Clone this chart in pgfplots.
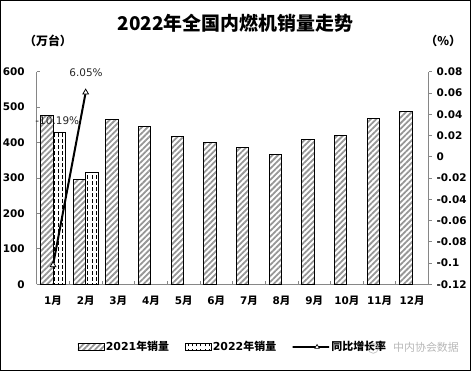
\documentclass[border=0pt]{standalone}
\usepackage{pgfplots}
\pgfplotsset{compat=1.18}
\usetikzlibrary{patterns,patterns.meta}
\usepackage{fontspec}
\setmainfont{DejaVu Sans}
\newfontfamily\cjk{Noto Sans CJK SC}

\pgfdeclarepatternformonly{vdash}{\pgfqpoint{-1pt}{0pt}}{\pgfqpoint{1pt}{6pt}}{\pgfqpoint{4.2pt}{6pt}}{%
  \pgfsetlinewidth{0.9pt}%
  \pgfpathmoveto{\pgfqpoint{0pt}{0.6pt}}%
  \pgfpathlineto{\pgfqpoint{0pt}{4.4pt}}%
  \pgfusepath{stroke}}

\definecolor{axgray}{RGB}{134,134,134}
\definecolor{stripe}{RGB}{150,150,150}

\pgfplotsset{
  boxlegend/.style={legend image code/.code={\draw[##1, line width=0.7bp] (0bp,-3.5bp) rectangle (26bp,3.5bp);}},
  linelegend/.style={legend image code/.code={\draw[mark repeat=2,mark phase=2,##1] plot coordinates {(0bp,0bp) (12bp,0bp) (24bp,0bp)};}},
}

\begin{document}
\begin{tikzpicture}[x=1bp,y=1bp]
\useasboundingbox (-36.7,-86.7) rectangle (434.3,284.3);
\begin{axis}[
  at={(0,0)}, anchor=south west,
  scale only axis, width=391.8bp, height=212.6bp,
  ybar=0pt, bar width=12.5bp,
  xmin=-0.5, xmax=11.5, ymin=0, ymax=600,
  ytick={0,100,...,600},
  xtick={0,...,11},
  xticklabels={1{\cjk 月},2{\cjk 月},3{\cjk 月},4{\cjk 月},5{\cjk 月},6{\cjk 月},7{\cjk 月},8{\cjk 月},9{\cjk 月},10{\cjk 月},11{\cjk 月},12{\cjk 月}},
  minor xtick={0.5,1.5,...,10.5},
  major x tick style={draw=none},
  minor x tick style={axgray, line width=0.8bp},
  minor tick length=3.5bp,
  major tick length=3.5bp,
  xtick pos=bottom, ytick pos=left,
  tick align=inside,
  axis x line*=bottom, axis y line*=left,
  axis line style={axgray, line width=0.9bp, -},
  y tick style={axgray, line width=0.8bp},
  /pgf/number format/assume math mode=true,
  tick label style={font=\bfseries\fontsize{10.5}{12}\selectfont, text=black},
  yticklabel style={xshift=-8.5bp},
  xticklabel style={yshift=-8bp},
  legend style={at={(0.5,-0.295)}, anchor=center, draw=none, fill=none,
    legend columns=-1, font=\bfseries\fontsize{11}{13}\selectfont,
    /tikz/every even column/.append style={column sep=14bp},
    nodes={inner sep=1.5bp}},
  legend cell align=left,
]
\addplot[draw=black, line width=1bp, pattern={Lines[angle=45,distance=4bp,line width=1.8bp]}, pattern color=stripe, boxlegend]
  coordinates {(0,477) (1,297) (2,466) (3,446) (4,417) (5,401) (6,387) (7,367) (8,409) (9,421) (10,469) (11,488)};
\addlegendentry{2021{\cjk 年销量}}
\addplot[draw=black, line width=1bp, pattern=vdash, boxlegend]
  coordinates {(0,429) (1,316)};
\addlegendentry{2022{\cjk 年销量}}
\addlegendimage{black, line width=1.6bp, mark=triangle*, mark size=2.6bp, mark options={fill=white, line width=0.6bp}, linelegend}
\addlegendentry{{\cjk 同比增长率}}
\end{axis}
\begin{axis}[
  at={(0,0)}, anchor=south west,
  scale only axis, width=391.8bp, height=212.6bp,
  xmin=-0.5, xmax=11.5, ymin=-0.12, ymax=0.08,
  axis x line=none, axis y line*=right,
  ytick={-0.12,-0.1,-0.08,-0.06,-0.04,-0.02,0,0.02,0.04,0.06,0.08},
  yticklabels={-0.12,-0.1,-0.08,-0.06,-0.04,-0.02,0,0.02,0.04,0.06,0.08},
  ytick pos=right, tick align=outside, major tick length=3bp,
  axis line style={axgray, line width=0.9bp, -},
  y tick style={axgray, line width=0.8bp},
  yticklabel style={font=\bfseries\fontsize{10.5}{12}\selectfont, text=black, xshift=1.5bp, anchor=west},
  clip=false,
]
\addplot[black, line width=2bp, mark=triangle*, mark size=3.3bp, mark options={fill=white, line width=0.8bp}]
  coordinates {(0,-0.1019) (1,0.0605)};
\node[font=\fontsize{10.5}{12}\selectfont, text=black!85] at (axis cs:0.13,0.034) {-10.19\%};
\node[font=\fontsize{10.5}{12}\selectfont, text=black!85] at (axis cs:1.01,0.0795) {6.05\%};
\end{axis}
\node[font=\cjk\bfseries\fontsize{19}{22}\selectfont] at (198.8,261.5) {2022年全国内燃机销量走势};
\node[font=\cjk\bfseries\fontsize{12}{14}\selectfont] at (11.3,243.8) {（万台）};
\node[font=\cjk\bfseries\fontsize{12}{14}\selectfont] at (406.5,243.8) {（\%）};
\node[font=\cjk\fontsize{11}{13}\selectfont, text=gray!70, opacity=0.8] at (389.3,-62.7) {中内协会数据};
\draw[gray!60, line width=0.7bp, opacity=0.8] (336.5,-64) circle (5bp);
\draw[line width=1bp] (-36.2,-86.2) rectangle (433.8,283.8);
\end{tikzpicture}
\end{document}
